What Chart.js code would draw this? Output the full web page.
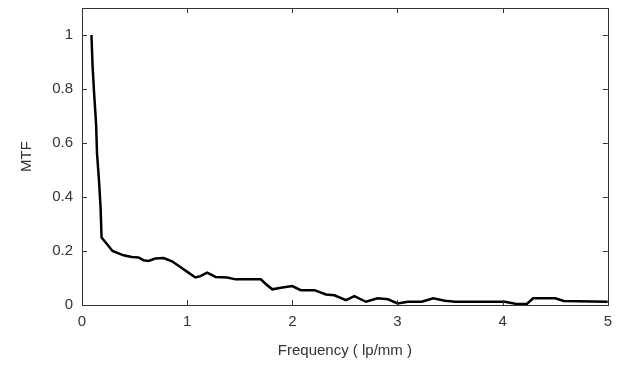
<!DOCTYPE html>
<html>
<head>
<meta charset="utf-8">
<script src="https://cdn.jsdelivr.net/npm/chart.js@4/dist/chart.umd.min.js"></script>
<style>
html,body{margin:0;padding:0;background:#fff;}
#wrap{width:620px;height:375px;}
</style>
</head>
<body>
<div id="wrap"><canvas id="c" width="620" height="375"></canvas></div>
<script>
const frequency = [0.09,0.10,0.115,0.134,0.143,0.162,0.177,0.186,0.235,0.29,0.395,0.474,0.537,0.585,0.633,0.697,0.776,0.856,0.935,1.015,1.078,1.126,1.19,1.27,1.38,1.46,1.57,1.70,1.75,1.81,1.905,2.0,2.08,2.21,2.32,2.40,2.51,2.59,2.70,2.81,2.91,3.00,3.10,3.23,3.34,3.45,3.55,4.02,4.13,4.23,4.29,4.50,4.58,5.0];
const mtf =       [1.0,0.89,0.785,0.67,0.56,0.46,0.357,0.25,0.227,0.20,0.184,0.178,0.176,0.166,0.163,0.172,0.174,0.162,0.141,0.119,0.102,0.107,0.120,0.104,0.102,0.095,0.095,0.095,0.077,0.058,0.065,0.070,0.055,0.055,0.039,0.036,0.018,0.033,0.012,0.025,0.021,0.006,0.012,0.012,0.025,0.016,0.012,0.012,0.004,0.004,0.025,0.025,0.015,0.012];
const xTicks = [0,1,2,3,4,5];
const yTicks = [0,0.2,0.4,0.6,0.8,1];
const xTitle = 'Frequency ( lp/mm )';
const yTitle = 'MTF';

const points = frequency.map((f,i)=>({x:f,y:mtf[i]}));
const FONT = 'Liberation Sans, Arial, sans-serif';
const TXT = '#333333';

const boxPlugin = {
  id:'box',
  afterDraw(chart){
    const {ctx, chartArea:a, scales:{x,y}} = chart;
    ctx.save();
    ctx.strokeStyle = '#333333';
    ctx.lineWidth = 1;
    ctx.strokeRect(Math.round(a.left)+0.5, Math.round(a.top)+0.5, Math.round(a.right-a.left), Math.round(a.bottom-a.top));
    const L = 5;
    ctx.beginPath();
    x.ticks.forEach(t=>{
      const px = Math.round(x.getPixelForValue(t.value))+0.5;
      ctx.moveTo(px,a.bottom); ctx.lineTo(px,a.bottom-L);
      ctx.moveTo(px,a.top); ctx.lineTo(px,a.top+L);
    });
    y.ticks.forEach(t=>{
      const py = Math.round(y.getPixelForValue(t.value))+0.5;
      ctx.moveTo(a.left,py); ctx.lineTo(a.left+L,py);
      ctx.moveTo(a.right,py); ctx.lineTo(a.right-L,py);
    });
    ctx.stroke();
    ctx.restore();
  }
};

new Chart(document.getElementById('c'),{
  type:'scatter',
  data:{datasets:[{
    data:points,
    showLine:true,
    borderColor:'#000000',
    borderWidth:2.5,
    pointRadius:0,
    tension:0,
    fill:false
  }]},
  options:{
    responsive:false,
    animation:false,
    devicePixelRatio:1,
    layout:{padding:{top:8,right:12,left:0,bottom:0}},
    plugins:{legend:{display:false},tooltip:{enabled:false}},
    scales:{
      x:{
        type:'linear',min:0,max:5,
        afterBuildTicks(s){ s.ticks = xTicks.map(v=>({value:v})); },
        afterFit(s){ s.height = 70; },
        grid:{display:false,drawTicks:false},
        border:{display:false},
        ticks:{color:TXT,font:{family:FONT,size:15},padding:8,maxRotation:0,callback:v=>String(v)},
        title:{display:true,text:xTitle,color:TXT,font:{family:FONT,size:15},padding:{top:0,bottom:15}}
      },
      y:{
        type:'linear',min:0,max:1.1,
        afterBuildTicks(s){ s.ticks = yTicks.map(v=>({value:v})); },
        afterFit(s){ s.width = 82; s.paddingTop = 0; s.paddingBottom = 0; },
        grid:{display:false,drawTicks:false},
        border:{display:false},
        ticks:{color:TXT,font:{family:FONT,size:15},padding:9,callback:v=>String(Math.round(v*10)/10)},
        title:{display:true,text:yTitle,color:TXT,font:{family:FONT,size:15},padding:{top:18,bottom:0}}
      }
    }
  },
  plugins:[boxPlugin]
});
</script>
</body>
</html>
